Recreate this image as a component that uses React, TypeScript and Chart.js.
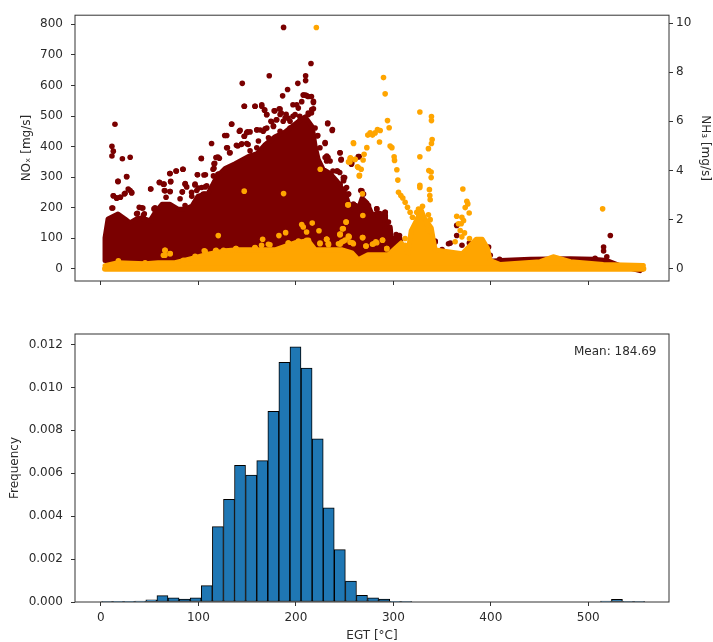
import React, { useEffect, useRef } from "react";
import { Chart, registerables } from "chart.js";

Chart.register(...registerables);

const MAROON = "#7a0000";
const ORANGE = "#ffa500";
const BLUE = "#1f77b4";
const INK = "#2b2b2b";

const xTicks = [0, 100, 200, 300, 400, 500];
const noxTicks = [0, 100, 200, 300, 400, 500, 600, 700, 800];
const nh3Ticks = [0, 2, 4, 6, 8, 10];
const freqTicks = [0, 0.002, 0.004, 0.006, 0.008, 0.01, 0.012];

// Outline of the solid NOx mass (EGT, NOx)
const noxOutlineX = [4.2,4.2,7.3,17.5,24.7,29.9,38,45.3,50.4,55.5,62.7,70.9,79,86.3,93.5,99.7,110,119.2,127.4,137.7,151,160.2,168.4,178.7,189,202.3,209.5,216.7,219.8,222.9,228,235,242.3,250.5,255.6,263.8,267.9,273,278.4,284.5,291.6,292,296.8,297.8,307,309,314.2,337.8,410,440.5,481.6,505,519,532.8,553];
const noxOutlineY = [27,101,163,179,163,150,166,163,157,183,211,211,195,195,205,238,247,302,328,344,367,377,406,432,448,481,497,465,400,358,325,312,286,247,198,192,231,215,176,183,176,137,137,101,98,59,36,11,27,31,33,31,27,10,-6];

// Scattered NOx points around the mass
const noxPointX = [187.4,215.5,210,210,202,172.7,145,191.5,186.4,147,158,165,168,170,178.5,183,190,185,174.4,177,180,134,142,153,149.5,147,160,166.5,127,113.5,129,139,151,144,132,118,120,116,103,115,120,105.7,99,84,77,71,71.5,60,64,86.5,88,51,65.7,71,83.4,96.4,93,100,107,105,14.4,11.3,12.7,11.3,22,30,26.3,17.4,12.7,16,20,24,28,31.5,11.3,36.6,43,39.3,44.5,54.4,232.6,237.3,230,222,245.2,246.3,233,230,257,264,224.7,231.5,238,245,250,252,259,197,202.5,206,210,207.6,212.7,216,218,218,216,212.7,209,204,197,192,187,245.4,246.5,257.4,265,242.7,249,249,254,267.7,274.5,261,283,291.6,286.5,293.4,303.6,343,358.4,365,365,370.4,378,350,522.6,515.7,515.7,507,519,555,397.7,399.4,409,380.6,382,
  41.8,37.4,43.6,55.5,66.8,81.2,86.3,93.2,98.3,96.6,106.8,108.5,103.4,83.6,86.3,64.8,65.1,70.9,71.6,60,51.1,70.6,77.4,84.3,99,107.2,115.4,121.2,116,116.7,118.8,121.5,103,29.9,31.6,24.8,19.6,16.2,12.8,26.5,17.6,12.1,
  147.2,158.2,165,167.8,170.2,177.7,183.8,180.4,175.3,170.2,177,183.8,189,194,199.2,200.9,207.8,211.2,218,216.3,212.9,134.2,142.8,150.3,147.2,159.9,163.3,168.4,129.1,140.4,144.5,149.6,153,161.6,132.5,129.8,154.8,159.9,171.9,183.8,194,204.4,222.5,230,232.7,237.5,231.7,235.1,219.7,
  242,248.8,248.8,245.4,250.5,254,266.6,269.4,260.8,283,291.6,288.2,295,291.6,302.9,306.3,305.3,342.9,337.8,356.6,259,272.8,276.2,284.7];
const noxPointY = [790,672,632,616,607,632,607,587,566,532,532,532,520,504,517,524,506,510,483,466,488,473,450,448,445,434,455,450,436,410,396,404,407,407,380,364,366,344,360,326,309,307,308,326,320,312,285,282,277,279,268,261,255,253,251,274,250,264,268,245,473,401,385,369,360,365,302,286,239,232,234,245,261,250,199,180,199,201,180,196,475,453,410,435,380,356,364,364,342,367,396,353,320,315,299,266,207,537,526,547,569,569,564,564,544,524,510,510,493,499,499,493,483,380,358,347,367,320,299,288,245,255,207,207,196,185,169,147,109,88,84,142,109,77,84,63,109,71,58,34,39,-1,71,44,31,63,50,
  199.4,182,175,199.4,234,229,207,237,256,277,245,272,266,252,277,277,256,253,286,283,261,312,320,326,308,308,304,310,329,345,364,362,362,256,248,247,234,231,239,301,286,199,
  532,532,537,519,505,517,523,488,481,461,467,505,494,483,505,537,569,566,548,521,505,474,453,448,434,454,454,458,436,402,409,410,386,418,380,396,369,396,429,450,461,488,436,413,477,456,369,353,461,
  320,299,291,277,261,245,256,245,207,196,185,169,153,131,112,109,88,91,71,82,212,201,174,174];

// Outline of the solid NH3 mass (EGT, NH3)
const nh3OutlineX = [4.2,17.5,45.3,58.6,76,96.7,107,127.4,137.7,158,178.7,199,212.6,219.8,233,247.5,257.6,264,274,294.7,308,315,318.3,323.5,328.6,331.7,338.9,341,343,370.7,385,391.2,396.4,399.4,409.7,450.7,464,481.6,515.4,556.5];
const nh3OutlineY = [0.13,0.25,0.21,0.25,0.25,0.45,0.57,0.73,0.77,0.77,0.77,1.06,1.14,0.77,0.77,0.77,0.65,0.37,0.57,0.57,1.05,0.65,1.54,1.95,2.39,2.07,1.66,1.17,0.77,0.61,1.2,1.2,0.85,0.33,0.17,0.29,0.49,0.29,0.17,0.13];
const nh3FloorX = [4.2, 556.5];
const nh3FloorY = [0, 0];

// Scattered NH3 points
const nh3PointX = [289.9,291.6,294,295.7,296.7,298.5,300.8,301.2,303.6,304.6,305.3,307.7,309.7,312.1,314.5,317.2,319.6,283.7,286.5,281.3,278.6,276.2,273.8,285.8,259,272.8,270,269,260.8,255.7,254,263.2,267,265.3,327.2,339.1,339.1,339.8,339.1,336,327.2,336.4,338.8,338.8,327.2,327.2,337,337.4,337.8,329.9,325.8,324,336,337.8,334.4,336,371.3,375.4,376.4,373.7,377.8,365,370.3,372,369.6,366.8,368.6,373,370.3,378.1,363.4,268.3,253.3,268.7,251.6,247.8,245.4,254.7,250.6,268.3,282,288.9,278.6,271.8,293.3,245.4,255.7,221,259.2,255.5,256,260.6,264,265,225,147,187.4,253.8,120.4,206,207.6,211,216.8,223.7,189.5,182.6,165.9,164.8,173.4,192.2,211,224.7,231.5,233.2,251.4,248.6,245.2,253.8,259,247,106,117.6,65.7,71,65.7,138.5,158,514.7,
  231.7,233.5,248.2,245.4,254,258.1,248.8,243.7,268.7,272.1,279.6,283,288.9,293.3,312.1,312.1,
  118.1,138.6,158.1,171.8,192.3,202.6,212.9,224.8,233.4,231.7,
  17.9,45.3,65.8,64.1,71,96.6,106.9,117.8,125.7,84.6];
const nh3PointY = [7.78,7.12,6.03,5.74,5,4.93,4.56,4.41,4.03,3.61,3.11,2.98,2.88,2.71,2.5,2.3,2.1,5.67,5.63,5.53,5.44,5.53,5.44,5.16,5.13,4.93,4.66,4.43,4.46,4.5,4.35,4.15,4.05,3.8,6.38,6.2,6.03,5.26,5.1,4.89,4.56,4,3.94,3.71,3.4,3.31,3.22,2.98,2.81,2.54,2.43,2.3,2.2,2,1.83,1.56,3.25,2.75,2.64,2.49,2.27,2.14,2.1,1.96,1.83,1.83,1.56,1.46,1.3,1.23,1.1,3.05,2.6,2.17,1.9,1.63,1.41,1.3,1.17,1.27,1.1,1.17,1,0.93,0.82,1,1.08,9.82,5.1,4.35,4.52,4.45,4.12,3.78,4.05,3.16,3.06,2.6,1.35,1.8,1.7,1.5,1.86,1.55,1.47,1.35,1.2,0.96,0.98,1.05,1.16,1.02,1.2,1.02,1.9,1.63,1.39,1.29,1.02,1.09,0.73,0.73,0.75,0.62,0.55,0.82,0.85,2.44,
  1.2,0.98,1.63,1.4,1.33,1.06,1.12,1.02,1.27,0.93,1.02,1.06,1.16,0.82,1.23,0.96,
  0.75,0.82,0.86,1,1.05,1.13,1.16,1.05,1.02,1.2,
  0.32,0.24,0.75,0.55,0.61,0.51,0.71,0.72,0.75,0.35];

// Histogram
const binCenters = [6.3,17.6,29,40.4,51.7,63.1,74.5,85.9,97.2,108.6,120,131.4,142.7,154.1,165.5,176.9,188.2,199.6,211,222.4,233.7,245.1,256.5,267.8,279.2,290.6,302,313.3,324.7,336.1,347.5,358.8,370.2,381.6,392.9,404.3,415.7,427.1,438.4,449.8,461.2,472.6,483.9,495.3,506.7,518.1,529.4,540.8,552.2];
const frequencies = [0.00002,0.00003,0.00003,0.00004,0.0001,0.0003,0.00019,0.00014,0.00019,0.00076,0.00351,0.00479,0.00637,0.00591,0.00659,0.00889,0.01117,0.01189,0.0109,0.00761,0.00439,0.00244,0.00097,0.00031,0.00019,0.00014,0.00003,0.00002,0,0,0,0,0,0,0,0,0,0,0,0,0,0,0,0,0,0.00004,0.00012,0.00002,0.00002];

const meanLabel = "Mean: 184.69";
const xLabel = "EGT [°C]";
const noxLabel = "NOₓ [mg/s]";
const nh3Label = "NH₃ [mg/s]";
const freqLabel = "Frequency";

const zip = (xs: number[], ys: number[]) => xs.map((x, i) => ({ x, y: ys[i] }));

const FONT = { family: "'DejaVu Sans'", size: 12 };

const framePlugin = {
  id: "frame",
  afterDatasetsDraw(chart: any) {
    const { ctx, chartArea: a } = chart;
    ctx.save();
    ctx.strokeStyle = "#333";
    ctx.lineWidth = 1;
    ctx.strokeRect(a.left, a.top, a.right - a.left, a.bottom - a.top);
    ctx.restore();
  },
};

const meanPlugin = {
  id: "meanText",
  afterDraw(chart: any) {
    const { ctx, chartArea: a } = chart;
    ctx.save();
    ctx.font = "12px 'DejaVu Sans'";
    ctx.fillStyle = INK;
    ctx.textAlign = "right";
    ctx.textBaseline = "middle";
    ctx.fillText(meanLabel, a.right - 12.5, a.top + 17.5);
    ctx.restore();
  },
};

const tickGrid = { drawOnChartArea: false, drawTicks: true, tickLength: 4, tickColor: "#333" };
const fixW = (w: number) => (s: any) => { s.width = w; };
const fixH = (h: number) => (s: any) => { s.height = h; };
const setTicks = (vals: number[]) => (s: any) => { s.ticks = vals.map((value) => ({ value })); };

export default function App() {
  const topRef = useRef<HTMLCanvasElement>(null);
  const botRef = useRef<HTMLCanvasElement>(null);

  useEffect(() => {
    const top = new Chart(topRef.current!, {
      type: "scatter",
      data: {
        datasets: [
          { type: "line", data: zip(noxOutlineX, noxOutlineY), yAxisID: "y", borderColor: MAROON, backgroundColor: MAROON, borderWidth: 5, borderJoinStyle: "round", borderCapStyle: "round", pointRadius: 0, fill: { value: 0 }, order: 5 },
          { data: zip(noxPointX, noxPointY), yAxisID: "y", backgroundColor: MAROON, borderWidth: 0, pointRadius: 2.8, order: 4 },
          { type: "line", data: zip(nh3OutlineX, nh3OutlineY), yAxisID: "y2", borderColor: ORANGE, backgroundColor: ORANGE, borderWidth: 5, borderJoinStyle: "round", borderCapStyle: "round", pointRadius: 0, fill: { value: 0 }, order: 3 },
          { type: "line", data: zip(nh3FloorX, nh3FloorY), yAxisID: "y2", borderColor: ORANGE, borderWidth: 6, borderCapStyle: "round", pointRadius: 0, fill: false, order: 2 },
          { data: zip(nh3PointX, nh3PointY), yAxisID: "y2", backgroundColor: ORANGE, borderWidth: 0, pointRadius: 2.8, order: 1 },
        ] as any,
      },
      options: {
        animation: false,
        responsive: false,
        layout: { padding: { top: 13, left: 0, right: 0, bottom: 0 } },
        plugins: { legend: { display: false }, tooltip: { enabled: false } },
        scales: {
          x: {
            type: "linear", min: -26.6, max: 582.8,
            border: { display: false }, grid: tickGrid,
            ticks: { display: false, autoSkip: false, font: FONT },
            afterBuildTicks: setTicks(xTicks),
            afterFit: fixH(19),
          },
          y: {
            type: "linear", position: "left", min: -40, max: 830,
            border: { display: false }, grid: tickGrid,
            ticks: { autoSkip: false, color: INK, font: FONT, padding: 8, callback: (v: any) => String(v) },
            afterBuildTicks: setTicks(noxTicks),
            title: { display: true, text: noxLabel, color: INK, font: FONT, padding: { top: 20, bottom: 0 } },
            afterFit: fixW(75),
          },
          y2: {
            type: "linear", position: "right", min: -0.497, max: 10.32,
            border: { display: false }, grid: tickGrid,
            ticks: { autoSkip: false, color: INK, font: FONT, padding: 3, callback: (v: any) => String(v) },
            afterBuildTicks: setTicks(nh3Ticks),
            title: { display: true, text: nh3Label, color: INK, font: FONT, padding: { top: 1, bottom: 0 } },
            afterFit: fixW(44),
          },
        },
      } as any,
      plugins: [framePlugin],
    });

    const bot = new Chart(botRef.current!, {
      type: "bar",
      data: {
        datasets: [
          { data: zip(binCenters, frequencies), backgroundColor: BLUE, borderColor: "#000", borderWidth: 1, borderSkipped: false, barPercentage: 1, categoryPercentage: 1 },
        ] as any,
      },
      options: {
        animation: false,
        responsive: false,
        layout: { padding: { top: 34, left: 0, right: 44, bottom: 0 } },
        plugins: { legend: { display: false }, tooltip: { enabled: false } },
        scales: {
          x: {
            type: "linear", min: -26.6, max: 582.8, offset: false,
            border: { display: false }, grid: { ...tickGrid, offset: false },
            ticks: { autoSkip: false, color: INK, font: FONT, padding: 5, maxRotation: 0, callback: (v: any) => String(v) },
            afterBuildTicks: setTicks(xTicks),
            title: { display: true, text: xLabel, color: INK, font: FONT, padding: { top: 0, bottom: -1 } },
            afterFit: fixH(40),
          },
          y: {
            type: "linear", position: "left", min: 0, max: 0.01249,
            border: { display: false }, grid: tickGrid,
            ticks: { autoSkip: false, color: INK, font: FONT, padding: 8, callback: (v: any) => Number(v).toFixed(3) },
            afterBuildTicks: setTicks(freqTicks),
            title: { display: true, text: freqLabel, color: INK, font: FONT, padding: { top: 8, bottom: 0 } },
            afterFit: fixW(75),
          },
        },
      } as any,
      plugins: [framePlugin, meanPlugin],
    });

    return () => { top.destroy(); bot.destroy(); };
  }, []);

  const cv: React.CSSProperties = { position: "absolute", left: 0, display: "block", filter: "blur(0.45px)" };
  return (
    <div style={{ position: "absolute", left: 0, top: 0, width: 713, height: 642, background: "#fff", overflow: "hidden" }}>
      <canvas ref={topRef} width={713} height={300} style={{ ...cv, top: 0 }} />
      <canvas ref={botRef} width={713} height={342} style={{ ...cv, top: 300 }} />
    </div>
  );
}
